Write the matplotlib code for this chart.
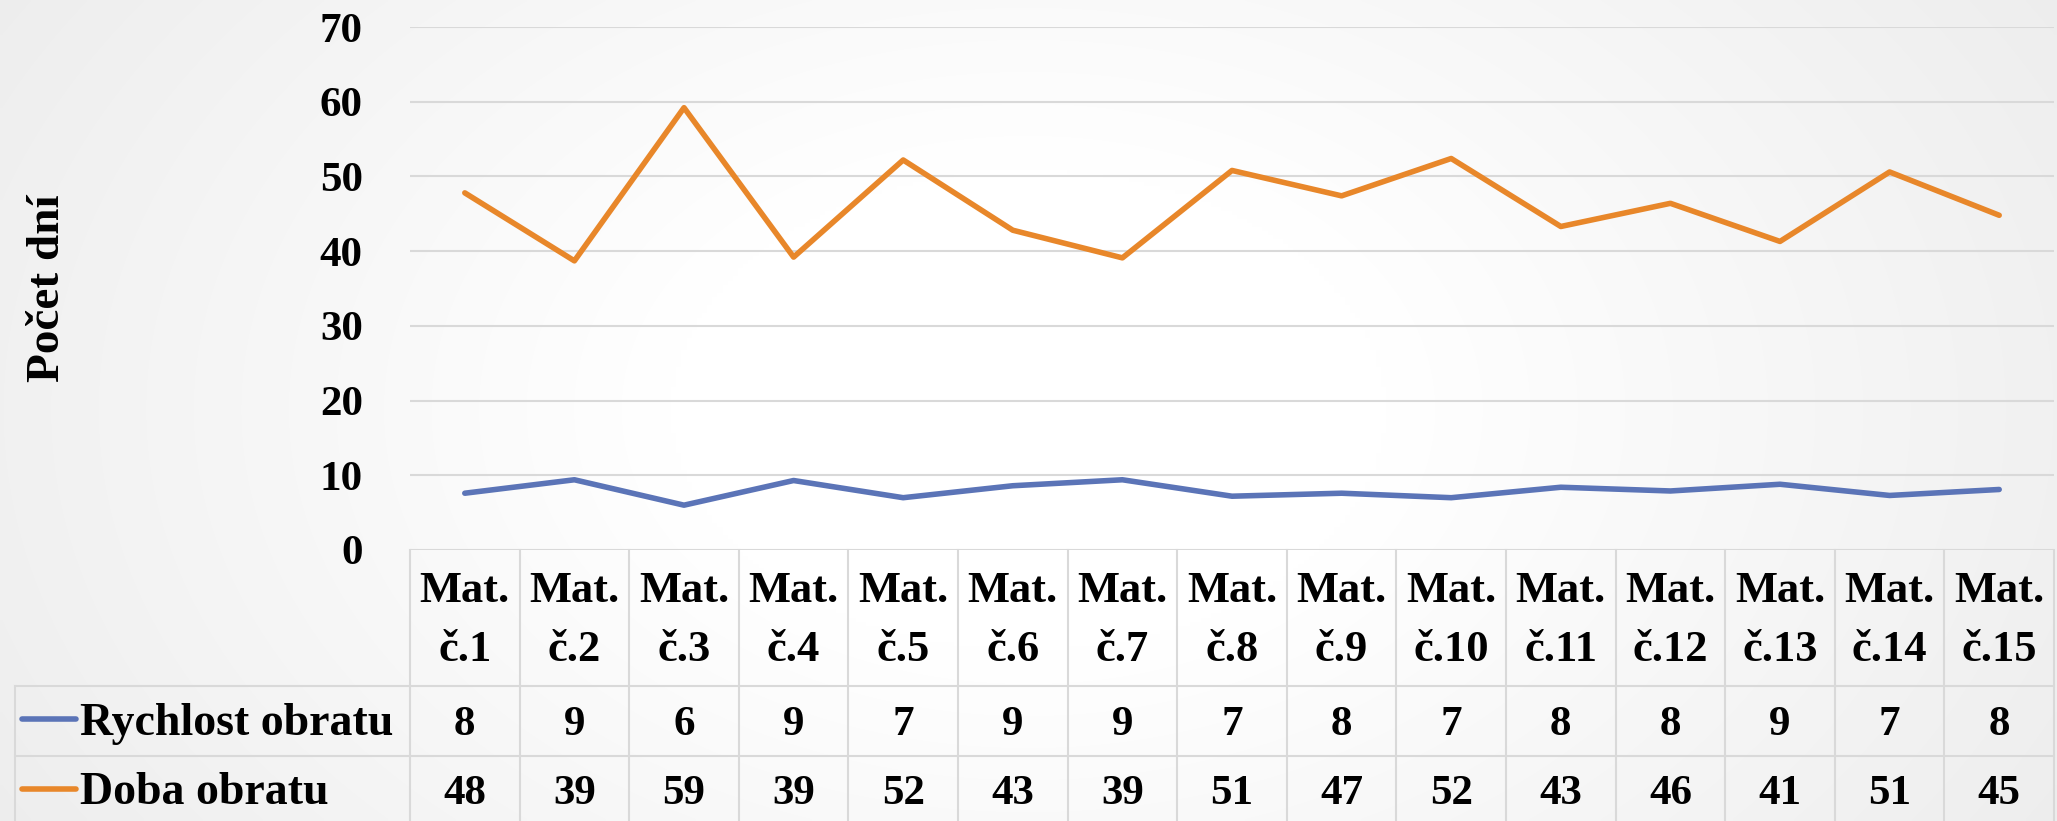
import numpy as np
import matplotlib
matplotlib.use("Agg")
import matplotlib.pyplot as plt
from matplotlib.lines import Line2D
from matplotlib.transforms import blended_transform_factory

# ---------------- data ----------------
categories = ["Mat. č.1", "Mat. č.2", "Mat. č.3", "Mat. č.4", "Mat. č.5",
              "Mat. č.6", "Mat. č.7", "Mat. č.8", "Mat. č.9", "Mat. č.10",
              "Mat. č.11", "Mat. č.12", "Mat. č.13", "Mat. č.14", "Mat. č.15"]
series_names = ["Rychlost obratu", "Doba obratu"]
rychlost_obratu = [7.6, 9.4, 6.0, 9.3, 7.0, 8.6, 9.4, 7.2, 7.6, 7.0, 8.4, 7.9, 8.8, 7.3, 8.1]
doba_obratu = [47.8, 38.7, 59.2, 39.2, 52.2, 42.8, 39.1, 50.8, 47.4, 52.4, 43.3, 46.4, 41.3, 50.6, 44.8]
rychlost_table = [8, 9, 6, 9, 7, 9, 9, 7, 8, 7, 8, 8, 9, 7, 8]
doba_table = [48, 39, 59, 39, 52, 43, 39, 51, 47, 52, 43, 46, 41, 51, 45]
y_ticks = [0, 10, 20, 30, 40, 50, 60, 70]
y_label = "Počet dní"

# ---------------- style ----------------
plt.rcParams["font.family"] = ["Liberation Serif", "DejaVu Serif"]
plt.rcParams["font.weight"] = "bold"
BLUE = "#5B74B7"
ORANGE = "#E8872A"
GRID = "#d9d9d9"
LW = 4.0

W, H = 2057, 821
fig = plt.figure(figsize=(W / 100, H / 100), dpi=100)


def fx(px):
    return px / W


def fy(py):
    return 1 - py / H


# background gradient
bg = fig.add_axes([0, 0, 1, 1], zorder=-10)
xx, yy = np.meshgrid(np.linspace(-1, 1, 400), np.linspace(-1, 1, 200))
r = np.sqrt(xx ** 2 + 0.35 * yy ** 2)
g = 1 - 0.055 * np.clip((r - 0.35) / 0.65, 0, 1.3)
bg.imshow(np.dstack([g, g, g]), aspect="auto", extent=[0, 1, 0, 1], interpolation="bilinear")
bg.axis("off")

# main axes
left, right, top, bottom = 410, 2054, 27, 550
ax = fig.add_axes([fx(left), fy(bottom), (right - left) / W, (bottom - top) / H])
ax.set_facecolor("none")
x = np.arange(len(categories))
ax.plot(x, rychlost_obratu, color=BLUE, lw=LW, solid_joinstyle="round", solid_capstyle="round", zorder=3)
ax.plot(x, doba_obratu, color=ORANGE, lw=LW, solid_joinstyle="round", solid_capstyle="round", zorder=3)
ax.set_xlim(-0.5, len(categories) - 0.5)
ax.set_ylim(0, 70)
ax.set_yticks(y_ticks)
ax.set_xticks([])
ax.tick_params(axis="y", length=0, pad=34, labelsize=31)
for s in ax.spines.values():
    s.set_visible(False)
ax.yaxis.grid(True, color=GRID, lw=1.5)
ax.set_axisbelow(True)
ax.set_ylabel(y_label, fontsize=34, fontweight="bold")
ax.yaxis.set_label_coords((48 - left) / (right - left), 0.5)
ax.yaxis.label.set_va("center")

# ---------------- data table ----------------
trans = blended_transform_factory(ax.transData, fig.transFigure)
for k in range(len(categories) + 1):
    xv = k - 0.5
    fig.add_artist(Line2D([xv, xv], [fy(550), fy(821)], transform=trans, color=GRID, lw=1.5))
for py in (686, 756):
    fig.add_artist(Line2D([fx(15), fx(right)], [fy(py), fy(py)], transform=fig.transFigure, color=GRID, lw=1.5))
fig.add_artist(Line2D([fx(15), fx(15)], [fy(686), fy(821)], transform=fig.transFigure, color=GRID, lw=1.5))

for i, cat in enumerate(categories):
    first, second = cat.split(" ", 1)
    ax.text(i, fy(602), first, transform=trans, ha="center", va="baseline", fontsize=32, fontweight="bold")
    ax.text(i, fy(661), second, transform=trans, ha="center", va="baseline", fontsize=32, fontweight="bold")
    ax.text(i, fy(735), str(rychlost_table[i]), transform=trans, ha="center", va="baseline", fontsize=31, fontweight="bold")
    ax.text(i, fy(804), str(doba_table[i]), transform=trans, ha="center", va="baseline", fontsize=31, fontweight="bold")

for name, color, ly, by in ((series_names[0], BLUE, 719, 735), (series_names[1], ORANGE, 789, 804)):
    fig.add_artist(Line2D([fx(22), fx(76)], [fy(ly), fy(ly)], transform=fig.transFigure,
                          color=color, lw=LW, solid_capstyle="round"))
    fig.text(fx(80), fy(by), name, ha="left", va="baseline", fontsize=33, fontweight="bold")

fig.savefig("out.png", dpi=100)
